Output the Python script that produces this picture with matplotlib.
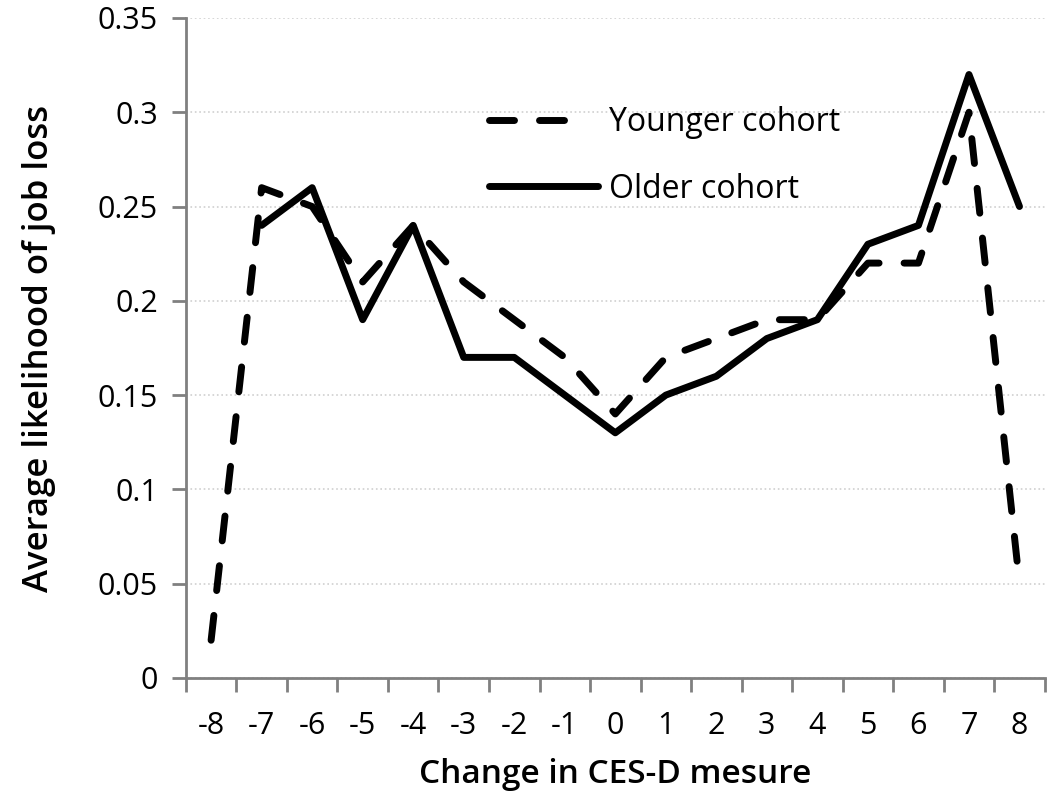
import matplotlib
matplotlib.use("Agg")
import matplotlib.pyplot as plt
import numpy as np

# data
changes = [-8, -7, -6, -5, -4, -3, -2, -1, 0, 1, 2, 3, 4, 5, 6, 7, 8]
younger = [0.02, 0.26, 0.25, 0.21, 0.24, 0.21, 0.19, 0.17, 0.14, 0.17, 0.18, 0.19, 0.19, 0.22, 0.22, 0.30, 0.05]
older = [np.nan, 0.24, 0.26, 0.19, 0.24, 0.17, 0.17, 0.15, 0.13, 0.15, 0.16, 0.18, 0.19, 0.23, 0.24, 0.32, 0.25]
y_ticks = [0, 0.05, 0.1, 0.15, 0.2, 0.25, 0.3, 0.35]

plt.rcParams['font.family'] = ['Open Sans', 'DejaVu Sans']

fig = plt.figure(figsize=(10.5, 8.01), dpi=100)
ax = fig.add_axes([0.177, 0.1536, 0.818, 0.824])

x = np.arange(len(changes))
ax.plot(x, younger, color='black', linewidth=5, linestyle=(0, (3.6, 3.6)),
        dash_capstyle='round', solid_joinstyle='round',
        label='Younger cohort', zorder=3)
ax.plot(x, older, color='black', linewidth=5, solid_joinstyle='round',
        solid_capstyle='round', label='Older cohort', zorder=3)

ax.set_xlim(-0.5, len(changes) - 0.5)
ax.set_ylim(0, 0.35)
ax.set_yticks(y_ticks)
ax.set_yticklabels(['0', '0.05', '0.1', '0.15', '0.2', '0.25', '0.3', '0.35'])
ax.set_xticks(x)
ax.set_xticklabels([str(c) for c in changes])
ax.set_xticks(np.arange(-0.5, len(changes)), minor=True)

ax.yaxis.grid(True, linestyle=':', linewidth=1.2, color='#d0d0d0')
ax.set_axisbelow(True)

for side in ['top', 'right']:
    ax.spines[side].set_visible(False)
for side in ['left', 'bottom']:
    ax.spines[side].set_color('#808080')
    ax.spines[side].set_linewidth(2)

ax.tick_params(axis='x', which='major', length=0, pad=24, labelsize=22)
ax.tick_params(axis='x', which='minor', length=10, width=2, color='#808080', direction='out')
ax.tick_params(axis='y', which='major', length=10, width=2, color='#808080', labelsize=22, pad=10)

ax.set_xlabel('Change in CES-D mesure', fontsize=24, fontweight='semibold', labelpad=12)
ax.set_ylabel('Average likelihood of job loss', fontsize=25, fontweight='semibold', labelpad=30)

leg = ax.legend(loc='upper left', bbox_to_anchor=(0.32, 0.91), frameon=False, fontsize=23,
                handlelength=3.4, labelspacing=1.05, handletextpad=0.35)

# the dashed legend sample shows just two dashes in the original
dash_handle = leg.legend_handles[0]
xd = np.asarray(dash_handle.get_xdata(), dtype=float)
yd = np.asarray(dash_handle.get_ydata(), dtype=float)
new_x = np.linspace(xd.min(), xd.min() + 0.69 * (xd.max() - xd.min()), len(yd))
dash_handle.set_data(new_x, yd)
leg.legend_handles[1].set_solid_capstyle('round')

fig.savefig('out.png', dpi=100)
